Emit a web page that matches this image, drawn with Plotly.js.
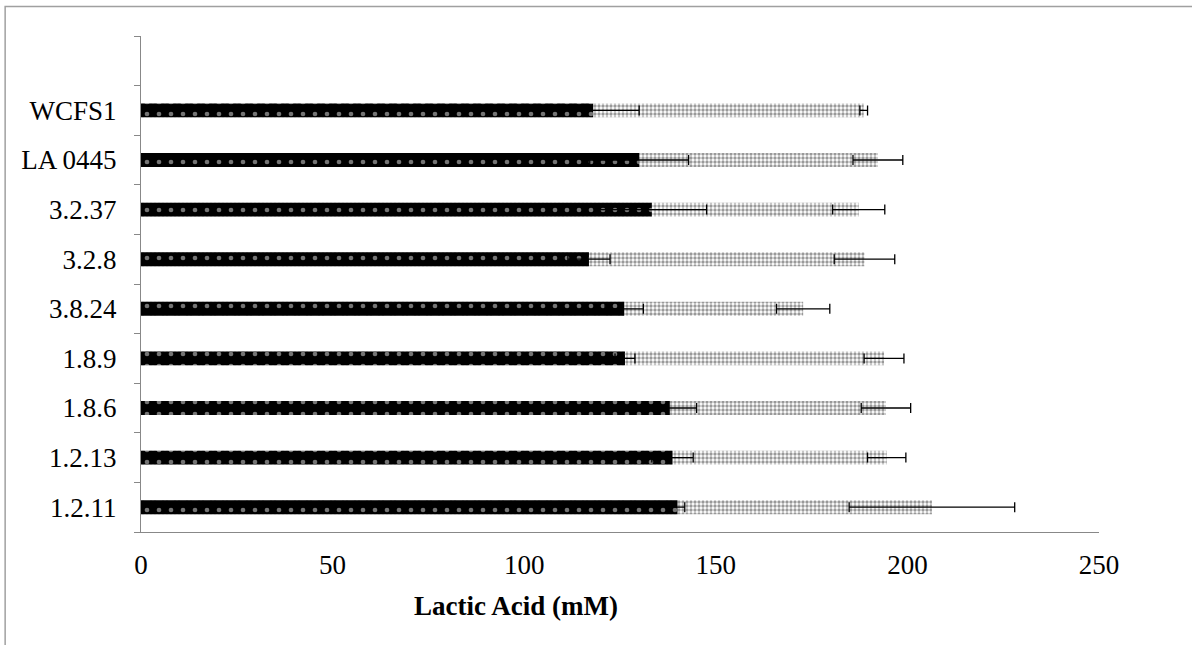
<!DOCTYPE html>
<html>
<head>
<meta charset="utf-8">
<script src="https://cdn.plot.ly/plotly-3.0.1.min.js"></script>
<style>
html,body{margin:0;padding:0;background:#fff;overflow:hidden;}
#chart{width:1192px;height:645px;}
</style>
</head>
<body>
<div id="chart"></div>
<script>
const strains = ["1.2.11", "1.2.13", "1.8.6", "1.8.9", "3.8.24", "3.2.8", "3.2.37", "LA 0445", "WCFS1"];
const seriesDark = [140.0, 138.7, 138.0, 126.3, 126.1, 116.9, 133.3, 130.0, 118.0];
const seriesDarkErr = [1.9, 5.4, 7.0, 2.6, 5.0, 5.5, 14.3, 12.9, 12.0];
const seriesLight = [206.4, 194.6, 194.4, 193.9, 172.8, 188.8, 187.3, 192.3, 188.6];
const seriesLightErr = [21.6, 5.0, 6.45, 5.2, 6.95, 7.9, 6.8, 6.5, 1.0];
const xTicks = [0, 50, 100, 150, 200, 250];
const axisTitle = "Lactic Acid (mM)";

const font = "Liberation Serif, Times New Roman, serif";

const lightTrace = {
  type: "bar", orientation: "h",
  y: strains, x: seriesLight,
  width: 0.28,
  marker: {
    color: "#ffffff",
    line: {width: 0},
    pattern: {shape: ".", bgcolor: "#ffffff", fgcolor: "#333333", size: 4, solidity: 0.55, fillmode: "overlay"}
  },
  error_x: {type: "data", array: seriesLightErr, visible: true, color: "#000000", thickness: 1.3, width: 5},
  showlegend: false, hoverinfo: "x+y"
};
const darkTrace = {
  type: "bar", orientation: "h",
  y: strains, x: seriesDark,
  width: 0.28,
  marker: {
    color: "#000000",
    line: {width: 0},
    pattern: {shape: ".", bgcolor: "#000000", fgcolor: "#e8e8e8", size: 12, solidity: 0.12, fillmode: "overlay"}
  },
  error_x: {type: "data", array: seriesDarkErr, visible: true, color: "#000000", thickness: 1.3, width: 5},
  showlegend: false, hoverinfo: "x+y"
};

const L = 140.5, R = 1099.5, T = 36, B = 532;
const W = R - L, H = B - T;

const layout = {
  width: 1192, height: 645,
  margin: {l: L, r: 1192 - R, t: T, b: 645 - B, pad: 0},
  paper_bgcolor: "#ffffff", plot_bgcolor: "#ffffff",
  barmode: "overlay",
  font: {family: font, size: 27, color: "#000000"},
  xaxis: {
    range: [0, 250],
    tickvals: xTicks, ticktext: xTicks.map(String),
    showgrid: false, zeroline: false,
    showline: true, linecolor: "#888888", linewidth: 1,
    ticks: "", ticklabelstandoff: 9,
    tickfont: {family: font, size: 27, color: "#000000"},
    fixedrange: true
  },
  yaxis: {
    type: "category",
    categoryorder: "array", categoryarray: strains.concat([" "]),
    range: [-0.5, 9.5],
    showgrid: false, zeroline: false,
    showline: true, linecolor: "#888888", linewidth: 1,
    ticks: "outside", ticklen: 6, tickcolor: "#888888", tickwidth: 1,
    tickson: "boundaries",
    ticklabelstandoff: 18,
    tickfont: {family: font, size: 27, color: "#000000"},
    fixedrange: true
  },
  annotations: [{
    text: "<b>" + axisTitle + "</b>",
    xref: "paper", yref: "paper",
    x: (516 - L) / W, y: (B - 606) / H,
    xanchor: "center", yanchor: "middle",
    showarrow: false,
    font: {family: font, size: 27, color: "#000000"}
  }],
  shapes: [{
    type: "rect", xref: "paper", yref: "paper",
    x0: (4.5 - L) / W, x1: (1196 - L) / W,
    y0: (B - 660) / H, y1: (B - 6.5) / H,
    line: {color: "#a0a0a0", width: 1.5}, fillcolor: "rgba(0,0,0,0)", layer: "below"
  }]
};

Plotly.newPlot("chart", [lightTrace, darkTrace], layout, {displayModeBar: false, staticPlot: true});
</script>
</body>
</html>
